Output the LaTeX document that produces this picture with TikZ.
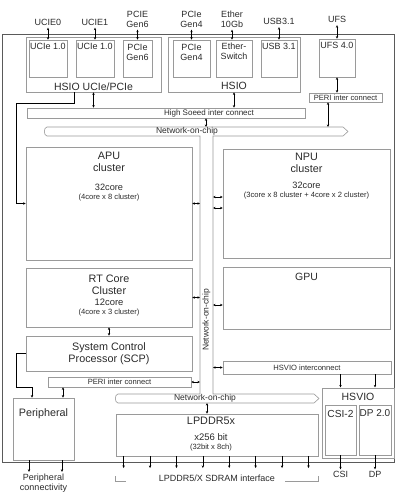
\documentclass[tikz,border=0pt]{standalone}
\usepackage{fontspec}
\setmainfont{Liberation Sans}
\usetikzlibrary{arrows.meta,positioning,calc}
\definecolor{edge}{HTML}{9A9A9A}
\definecolor{ink}{HTML}{2A2A2A}
\definecolor{frame}{HTML}{5A5A5A}
\newcommand\fsz[2]{\fontsize{#1}{#2}\selectfont}
\tikzset{
chip/.style={draw=frame,line width=.9pt,inner sep=0pt},
block/.style={draw=edge,line width=.7pt,inner sep=0pt},
unit/.style={draw=edge,line width=.6pt,inner sep=0pt},
bar/.style={draw=edge,line width=.6pt,inner sep=0pt,font=\fsz{7.6}{9},text=ink},
noc/.style={draw=edge,line width=.6pt},
txt/.style={inner sep=0pt,align=center,text=ink},
io/.style={inner sep=2pt,align=center,text=ink,font=\fsz{9}{10}},
flow/.style={-{Stealth[length=2.6pt,width=2.4pt]},line width=.6pt},
link/.style={{Stealth[length=2.6pt,width=2.4pt]}-{Stealth[length=2.6pt,width=2.4pt]},line width=.6pt}
}
\begin{document}
\begin{tikzpicture}[x=1pt,y=-1pt]
\useasboundingbox (0,0) rectangle (402,500);
\node[chip,minimum width=392pt,minimum height=428pt](soc) at (198,248){};
% high speed io
\node[block,minimum width=135pt,minimum height=55pt](hsioa) at (93.5,64.5){};
\node[unit,minimum width=38pt,minimum height=37pt](ucia) at (48,58.5){};
\node[unit,minimum width=38pt,minimum height=37pt](ucib) at (95,58.5){};
\node[unit,minimum width=29pt,minimum height=37pt](pcisix) at (137.5,58.5){};
\node[block,minimum width=132pt,minimum height=55pt](hsiob) at (234,64.5){};
\node[unit,minimum width=37pt,minimum height=37pt](pcifour) at (191.5,58.5){};
\node[unit,minimum width=36pt,minimum height=37pt](ether) at (234,58.5){};
\node[unit,minimum width=36pt,minimum height=37pt](usb) at (279,58.5){};
\node[unit,minimum width=36pt,minimum height=38pt](ufs) at (337,58){};
\node[txt,font=\fsz{10.5}{12},above=1.5pt of hsioa.south](thsioa){HSIO UCIe/PCIe};
\node[txt,font=\fsz{9}{10.5},below=3pt of ucia.north](tucia){UCIe 1.0};
\node[txt,font=\fsz{9}{10.5},below=3pt of ucib.north](tucib){UCIe 1.0};
\node[txt,font=\fsz{9}{10.5},below=4pt of pcisix.north](tpcisix){PCIe\\Gen6};
\node[txt,font=\fsz{10.5}{12},above=3pt of hsiob.south](thsiob){HSIO};
\node[txt,font=\fsz{9}{10.5},below=4pt of pcifour.north](tpcifour){PCIe\\Gen4};
\node[txt,font=\fsz{9}{10.5},below=3pt of ether.north](tether){Ether-\\Switch};
\node[txt,font=\fsz{9}{10.5},below=3pt of usb.north](tusb){USB 3.1};
\node[txt,font=\fsz{9}{10.5},below=3pt of ufs.north](tufs){UFS 4.0};
% pins on top
\node[io,above=12pt of ucia](lucie0){UCIE0};
\node[io,above=12pt of ucib](lucie1){UCIE1};
\node[io,above=10pt of pcisix](lpcie6){PCIE\\Gen6};
\node[io,above=10pt of pcifour](lpcie4){PCIe\\Gen4};
\node[io,above=10pt of ether,xshift=-2pt](lether){Ether\\10Gb};
\node[io,above=12.5pt of usb](lusb){USB3.1};
\node[io,above=13.5pt of ufs](lufs){UFS};
\foreach \a/\b in {lucie0/ucia,lucie1/ucib,lpcie6/pcisix,lpcie4/pcifour,lether/ether,lusb/usb,lufs/ufs}
  \draw[link](\a)--(\a |- \b.north);
% interconnects
\node[bar,minimum width=73pt,minimum height=9pt](periup) at (345.5,97.5){PERI inter connect};
\node[bar,minimum width=278pt,minimum height=10pt](hsbus) at (166,113){};
\node[txt,font=\fsz{8}{9}](thsbus) at ([xshift=43pt]hsbus.center){High Soeed inter connect};
\node[bar,minimum width=143pt,minimum height=10pt](perilo) at (119.5,382){PERI inter connect};
\node[bar,minimum width=168pt,minimum height=13pt](hsvbus) at (307,367.5){HSVIO interconnect};
\draw[noc](213,136)--(343,136)--(348,131.5)--(343,127)--(47,127) to[out=180,in=180] (47,136)--(200,136)--(200,394)
  --(118,394) to[out=180,in=180] (118,403)--(314,403)--(319,398.5)--(314,394)--(213,394)--cycle;
\coordinate(nocl) at (200,0);\coordinate(nocr) at (213,0);
\coordinate(noctop) at (206,127);\coordinate(nocbot) at (207,403);
\node[txt,font=\fsz{8.5}{10}](noct) at (187,131.5){Network-on-chip};
\node[txt,font=\fsz{8.5}{10},rotate=90](nocv) at (206.5,320){Network-on-chip};
\node[txt,font=\fsz{8.5}{10}](nocb) at (205,398.5){Network-on-chip};
% compute blocks
\node[block,minimum width=166pt,minimum height=113pt](apu) at (109,203.5){};
\node[block,minimum width=166pt,minimum height=59pt](rt) at (109,297.5){};
\node[block,minimum width=166pt,minimum height=35pt](scp) at (109,353.5){};
\node[block,minimum width=167pt,minimum height=109pt](npu) at (306.5,203.5){};
\node[block,minimum width=167pt,minimum height=62pt](gpu) at (306.5,298){};
\node[block,minimum width=61pt,minimum height=62pt](periph) at (43.5,429){};
\node[block,minimum width=202pt,minimum height=42pt](lpddr) at (217,435){};
\node[block,line width=1pt,minimum width=72pt,minimum height=70pt](hsvio) at (358,423){};
\node[unit,minimum width=31pt,minimum height=50pt](csi) at (340.5,430){};
\node[unit,minimum width=32pt,minimum height=50pt](dp) at (375,430){};
\node[txt,font=\fsz{10.8}{12},below=5pt of apu.north](tapu){APU\\cluster};
\node[txt,font=\fsz{7.6}{9.5},below=37pt of apu.north](capu){{\fsz{9.2}{9.5}32core}\\(4core x 8 cluster)};
\node[txt,font=\fsz{10.8}{12},below=7pt of rt.north](trt){RT Core\\Cluster};
\node[txt,font=\fsz{7.6}{9},below=31pt of rt.north](crt){{\fsz{9.4}{9}12core}\\(4core x 3 cluster)};
\node[txt,font=\fsz{10.8}{12},below=6.5pt of scp.north](tscp){System Control\\Processor (SCP)};
\node[txt,font=\fsz{10.8}{12},below=4pt of npu.north](tnpu){NPU\\cluster};
\node[txt,font=\fsz{7.6}{9.5},below=33pt of npu.north](cnpu){{\fsz{9.2}{9.5}32core}\\(3core x 8 cluster + 4core x 2 cluster)};
\node[txt,font=\fsz{10.5}{12},below=6pt of gpu.north](tgpu){GPU};
\node[txt,font=\fsz{10.8}{12},below=11pt of periph.north](tperiph){Peripheral};
\node[txt,font=\fsz{10.8}{12},below=3pt of lpddr.north,xshift=-6pt](tlpddr){LPDDR5x};
\node[txt,font=\fsz{7.6}{8.5},below=20pt of lpddr.north,xshift=-6pt](clpddr){{\fsz{9.5}{8.5}x256 bit}\\(32bit x 8ch)};
\node[txt,font=\fsz{10.5}{12},below=5pt of hsvio.north](thsvio){HSVIO};
\node[txt,font=\fsz{10.2}{12},below=5pt of csi.north](tcsi){CSI-2};
\node[txt,font=\fsz{10}{12},below=5pt of dp.north](tdp){DP 2.0};
% pins at bottom
\node[io,below=11.5pt of periph](lperiph){Peripheral\\connectivity};
\node[io,below=14pt of csi](lcsi){CSI};
\node[io,below=14pt of dp](ldp){DP};
\node[io](lsdram) at (217,478){LPDDR5/X SDRAM interface};
\coordinate(ifc) at (217,468);
% links
\draw[link](hsioa)--(hsioa |- hsbus.north);
\draw[link](hsiob)--(hsiob |- hsbus.north);
\draw[link](hsbus.south -| noctop)--(noctop);
\draw[link](ufs)--(ufs |- periup.north);
\draw[link]([xshift=-17.5pt]periup.south)--([xshift=-17.5pt]periup.south |- noctop);
\draw[flow]([xshift=-19.5pt]hsioa.south)--++(0,11)-|([xshift=-9pt]apu.west)--(apu.west);
\draw[link](apu.east)--(apu.east -| nocl);
\draw[link](rt.east)--(rt.east -| nocl);
\draw[link](perilo.east)--(perilo.east -| nocl);
\draw[link]([yshift=6.5pt]npu.west -| nocr)--([yshift=6.5pt]npu.west);
\draw[link]([yshift=-4.5pt]npu.west -| nocr)--([yshift=-4.5pt]npu.west);
\draw[link]([yshift=-7pt]gpu.west -| nocr)--([yshift=-7pt]gpu.west);
\draw[link](hsvbus.west -| nocr)--(hsvbus.west);
\draw[link](rt)--(scp);
\draw[flow](scp.west)--++(-9,0)--++(0,34)-|([xshift=-11.5pt]periph.north);
\draw[link]([xshift=19.5pt]periph.north)--([xshift=19.5pt]periph.north |- perilo.south);
\draw[link](nocbot)--(nocbot |- lpddr.north);
\draw[flow](hsvbus.south -| csi)--(hsvio.north -| csi);
\draw[flow](hsvbus.south -| dp)--(hsvio.north -| dp);
\draw[flow]([xshift=-14.5pt]periph.south)--([xshift=-14.5pt]periph.south |- lperiph.north);
\draw[flow]([xshift=18.5pt]periph.south)--([xshift=18.5pt]periph.south |- lperiph.north);
\draw[flow](csi)--(lcsi);
\draw[flow](dp)--(ldp);
\foreach \i in {0,...,7}
  \draw[flow]([xshift=8pt+26.4pt*\i]lpddr.south west)--([xshift=8pt+26.4pt*\i]lpddr.south west |- ifc);
\draw[edge,line width=.6pt](115,476)|-(126,481);
\draw[edge,line width=.6pt](285,481)-|(318,476);
\end{tikzpicture}
\end{document}
